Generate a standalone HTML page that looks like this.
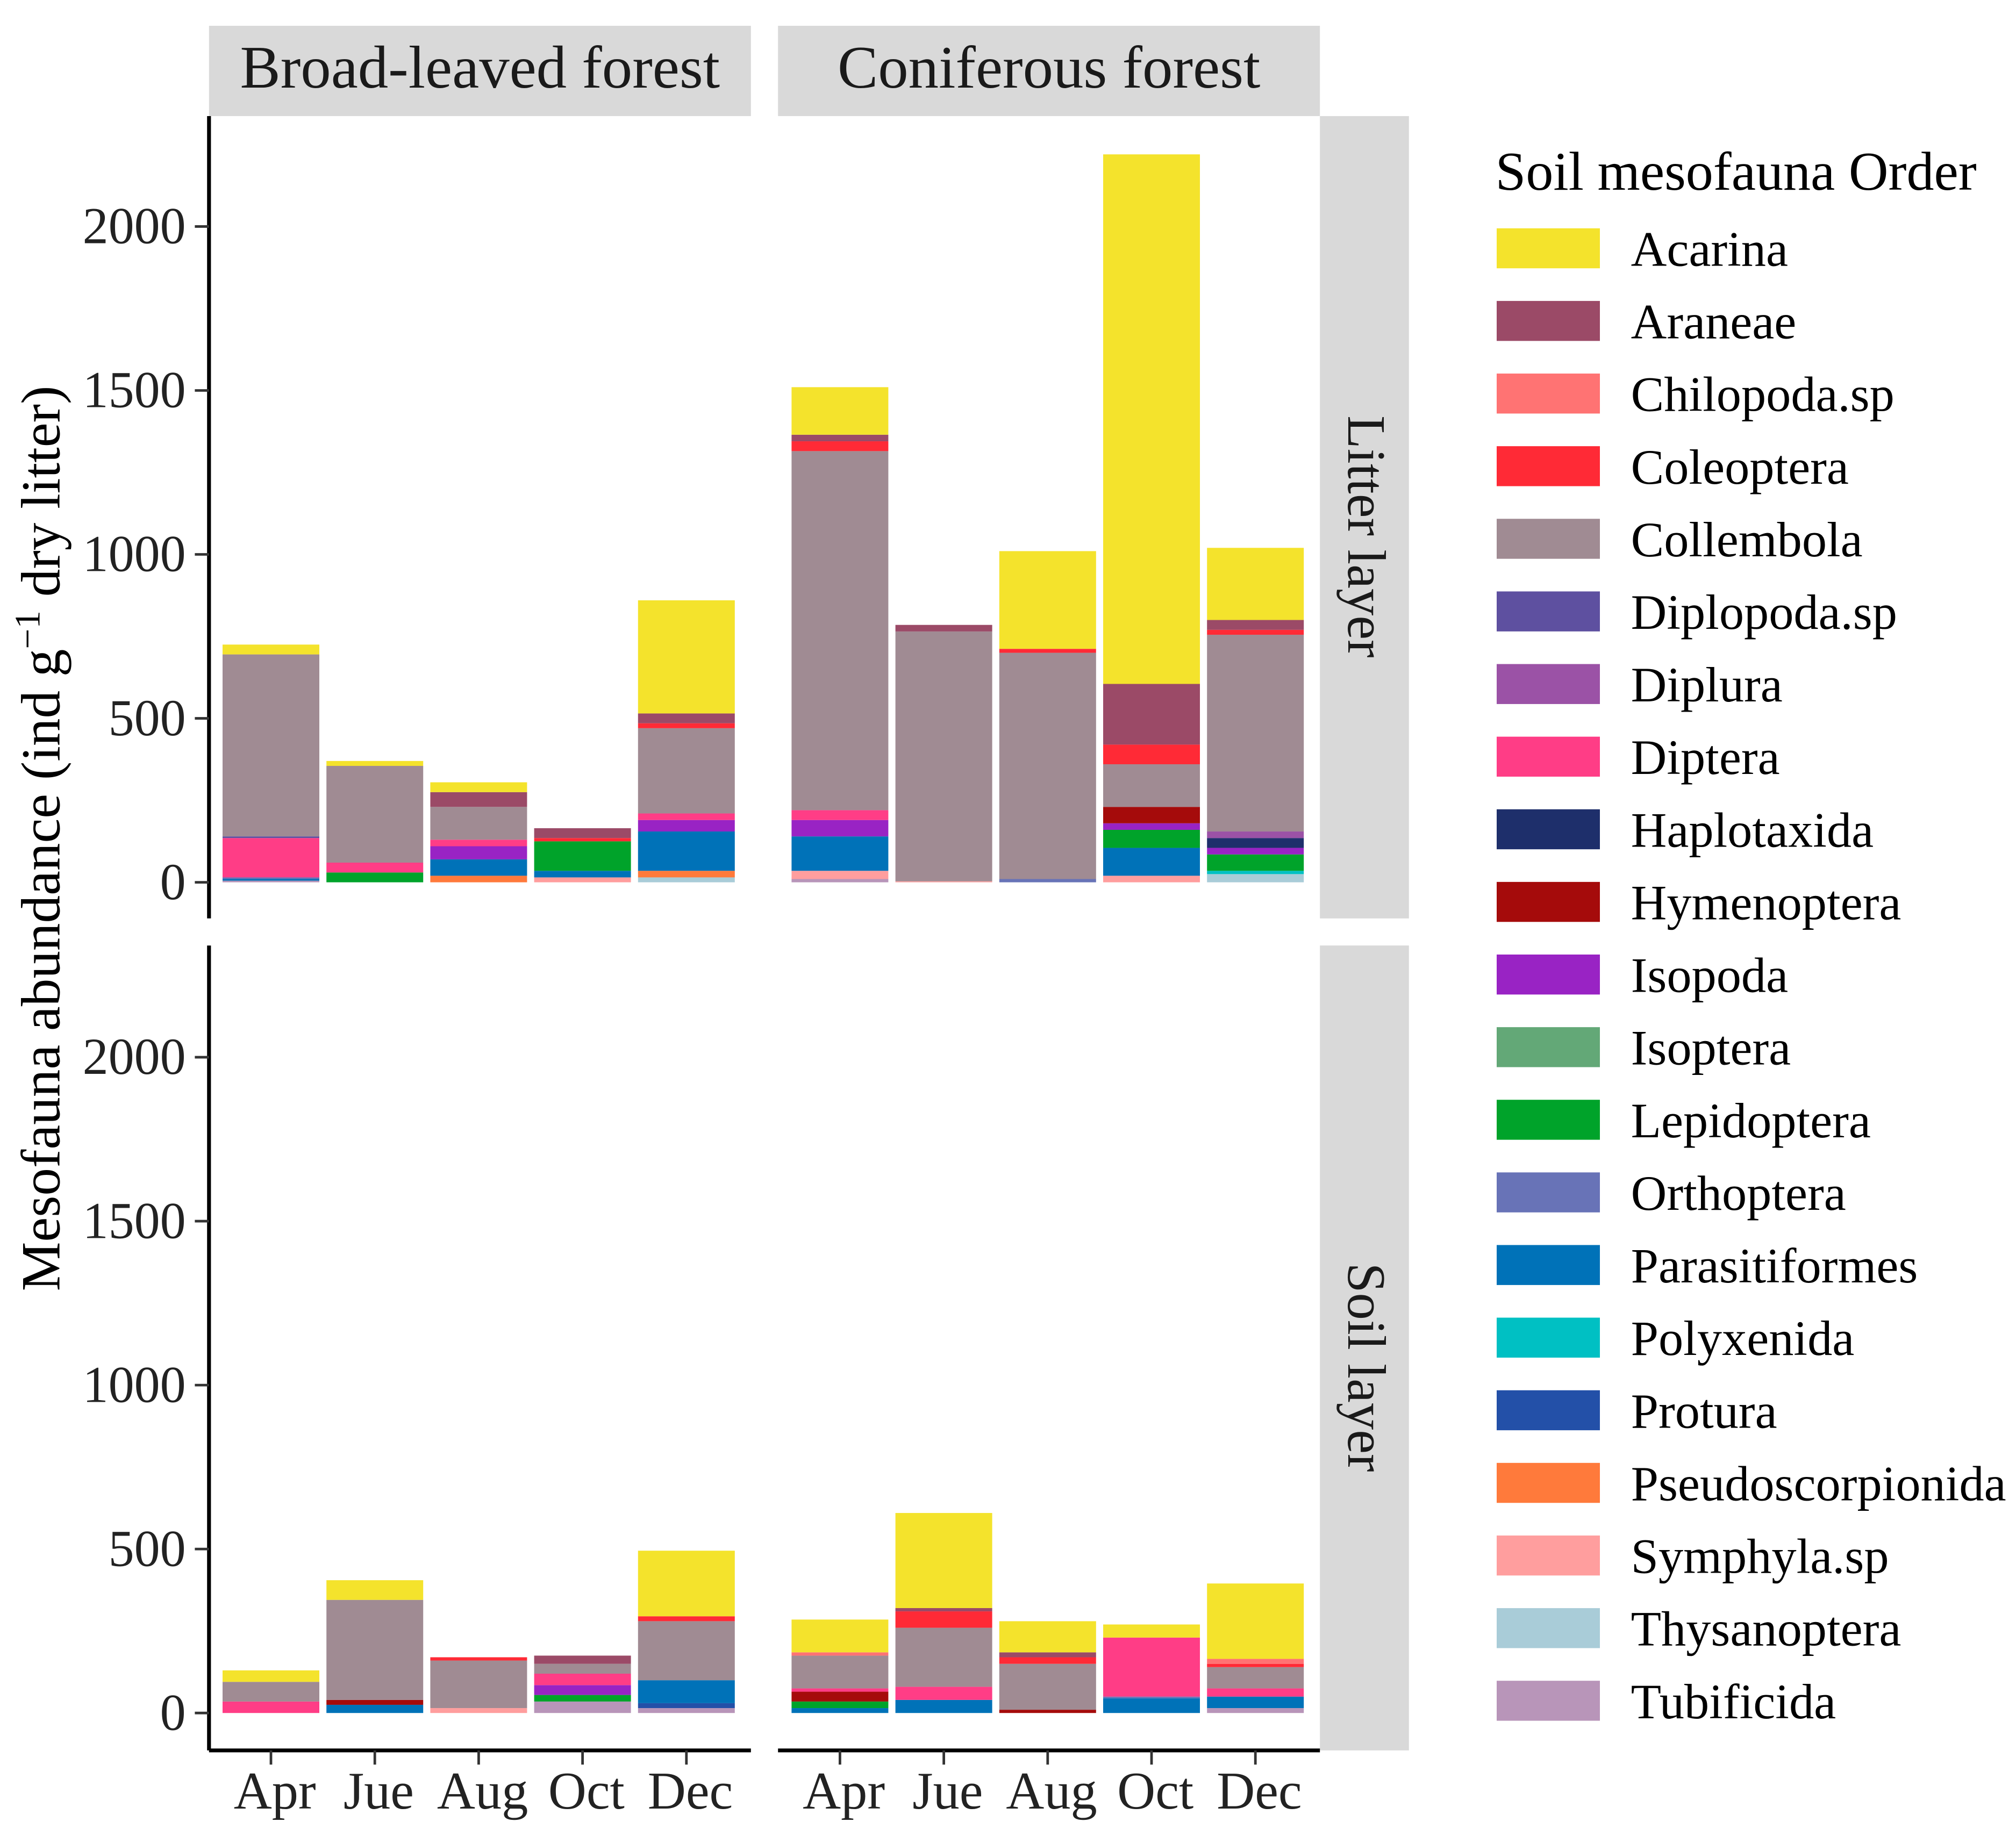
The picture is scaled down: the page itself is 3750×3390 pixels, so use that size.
<!DOCTYPE html>
<html><head><meta charset="utf-8"><style>
html,body{margin:0;padding:0;background:#fff;}
svg{display:block;font-family:"Liberation Serif",serif;}
</style></head><body>
<svg id="chart" width="3750" height="3390" viewBox="0 0 1562.5 1412.5" xmlns="http://www.w3.org/2000/svg">
<g id="root"></g>
</svg>
<script>
// bars order: broad-litter Apr..Dec, conif-litter Apr..Dec, broad-soil Apr..Dec, conif-soil Apr..Dec
const months = ["Apr","Jue","Aug","Oct","Dec"];
const forests = ["Broad-leaved forest","Coniferous forest"];
const layers = ["Litter layer","Soil layer"];
const yTicks = [0,500,1000,1500,2000];
const species = ["Acarina","Araneae","Chilopoda.sp","Coleoptera","Collembola","Diplopoda.sp","Diplura","Diptera","Haplotaxida","Hymenoptera","Isopoda","Isoptera","Lepidoptera","Orthoptera","Parasitiformes","Polyxenida","Protura","Pseudoscorpionida","Symphyla.sp","Thysanoptera","Tubificida"];
const colors = ["#f4e32c","#9b4a67","#ff7373","#ff2a36","#a08b93","#5e50a0","#9b52a6","#ff3d86","#1e2f6b","#a50b0b","#9923c4","#63a877","#00a32a","#6873b7","#0072b8","#00c0c3","#2350a8","#ff7a3b","#ff9e9e","#a9ccd8","#b895b9"];
const acarina        = [30,15,30,0,345, 145,0,298,1615,220, 35,60,0,0,200, 100,290,95,40,230];
const araneae        = [0,0,45,30,30, 20,20,0,185,30, 0,0,0,25,0, 0,10,15,0,0];
const chilopoda      = [0,0,0,0,0, 0,0,0,0,0, 0,0,0,0,0, 10,0,0,0,15];
const coleoptera     = [0,0,0,10,15, 30,0,12,60,15, 0,0,10,0,15, 0,50,20,0,10];
const collembola     = [555,295,100,0,260, 1095,762,690,130,600, 60,305,145,30,180, 100,180,140,0,65];
const diplopoda      = [5,0,0,0,0, 0,0,0,0,0, 0,0,0,0,0, 0,0,0,0,0];
const diplura        = [0,0,0,0,0, 0,0,0,0,20, 0,0,0,0,0, 0,0,0,0,0];
const diptera        = [120,30,20,0,20, 30,0,0,0,0, 35,0,0,35,0, 10,40,0,180,25];
const haplotaxida    = [0,0,0,0,0, 0,0,0,0,30, 0,0,0,0,0, 0,0,0,0,0];
const hymenoptera    = [0,0,0,0,0, 0,0,0,50,0, 0,15,0,0,0, 30,0,10,0,0];
const isopoda        = [0,0,40,0,35, 50,0,0,20,20, 0,0,0,30,0, 0,0,0,0,0];
const isoptera       = [0,0,0,0,0, 0,0,0,0,0, 0,0,0,0,0, 0,0,0,0,0];
const lepidoptera    = [0,30,0,90,0, 0,0,0,55,50, 0,0,0,20,0, 20,0,0,0,0];
const orthoptera     = [5,0,0,0,0, 0,0,10,0,0, 0,0,0,0,0, 0,0,0,5,0];
const parasitiformes = [5,0,50,20,120, 105,0,0,85,0, 0,25,0,0,70, 15,40,0,45,35];
const polyxenida     = [0,0,0,0,0, 0,0,0,0,10, 0,0,0,0,0, 0,0,0,0,0];
const protura        = [0,0,0,0,0, 0,0,0,0,0, 0,0,0,0,15, 0,0,0,0,0];
const pseudoscorp    = [0,0,20,0,20, 0,0,0,0,0, 0,0,0,0,0, 0,0,0,0,0];
const symphyla       = [0,0,0,15,0, 25,3,0,20,0, 0,0,15,0,0, 0,0,0,0,0];
const thysanoptera   = [0,0,0,0,15, 0,0,0,0,25, 0,0,0,0,0, 0,0,0,0,0];
const tubificida     = [5,0,0,0,0, 10,0,0,0,0, 0,0,0,35,15, 0,0,0,0,15];
const seriesValues = [acarina,araneae,chilopoda,coleoptera,collembola,diplopoda,diplura,diptera,haplotaxida,hymenoptera,isopoda,isoptera,lepidoptera,orthoptera,parasitiformes,polyxenida,protura,pseudoscorp,symphyla,thysanoptera,tubificida];

const NS="http://www.w3.org/2000/svg";
const root=document.getElementById('root');
function mk(tag,attrs,parent){const e=document.createElementNS(NS,tag);for(const k in attrs)e.setAttribute(k,attrs[k]);(parent||root).appendChild(e);return e;}
const panelX=[162,603], panelW=420;
const panelY=[90,733], panelH=[622,624];
const zeroY=[684,1328];
const pxPer=127.1/500;
function yScale(layer,v){return zeroY[layer]-v*pxPer;}
function xScale(f,m){return panelX[f]+48+m*80.5;}
const barW=75;

// strips
forests.forEach((f,i)=>{
  const r=mk('rect',{x:panelX[i],y:20,width:panelW,height:70,fill:'#d9d9d9'});
  
  
  const t=mk('text',{x:panelX[i]+panelW/2,y:68,'text-anchor':'middle','font-size':47,fill:'#1a1a1a'});
  t.textContent=f;
  
  
});
layers.forEach((l,j)=>{
  const r=mk('rect',{x:1023,y:panelY[j],width:69,height:panelH[j],fill:'#d9d9d9'});
  
  
  const cy=panelY[j]+panelH[j]/2+15;
  const t=mk('text',{x:1045,y:cy,'text-anchor':'middle','font-size':42,fill:'#1a1a1a',transform:`rotate(90 1045 ${cy})`});
  t.textContent=l;
  
  
});

// bars
for(let j=0;j<2;j++)for(let f=0;f<2;f++)for(let m=0;m<5;m++){
  const idx=j*10+f*5+m;
  let cum=0;
  for(let s=species.length-1;s>=0;s--){
    const v=seriesValues[s][idx];
    if(!v)continue;
    const y1=yScale(j,cum), y2=yScale(j,cum+v);
    const r=mk('rect',{x:xScale(f,m)-barW/2,y:y2,width:barW,height:y1-y2,fill:colors[s]});
    
    
    cum+=v;
  }
}

// axes
for(let j=0;j<2;j++){
  const a=mk('line',{x1:162,x2:162,y1:panelY[j],y2:panelY[j]+panelH[j],stroke:'#000','stroke-width':3});
  
  
  yTicks.forEach(t=>{
    const y=yScale(j,t);
    const tl=mk('line',{x1:151,x2:162,y1:y,y2:y,stroke:'#333','stroke-width':2});
    
    
    const tx=mk('text',{x:144,y:y+13,'text-anchor':'end','font-size':40,fill:'#222'});
    tx.textContent=t;
    
    
  });
}
for(let f=0;f<2;f++){
  const a=mk('line',{x1:panelX[f],x2:panelX[f]+panelW,y1:1357,y2:1357,stroke:'#000','stroke-width':3});
  
  
  months.forEach((mn,m)=>{
    const x=xScale(f,m);
    const tl=mk('line',{x1:x,x2:x,y1:1357,y2:1368,stroke:'#333','stroke-width':2});
    
    
    const tx=mk('text',{x:x+3,y:1402,'text-anchor':'middle','font-size':41,fill:'#222'});
    tx.textContent=mn;
    
    
  });
}
// y title
const yt=mk('text',{x:46,y:650,'text-anchor':'middle','font-size':43,fill:'#000',transform:'rotate(-90 46 650)'});


yt.appendChild(document.createTextNode('Mesofauna abundance (ind g'));
const sup=mk('tspan',{'baseline-shift':'super','font-size':28},yt);sup.textContent='−1';
const rest=mk('tspan',{},yt);rest.textContent=' dry litter)';

// legend
const lt=mk('text',{x:1159,y:147,'font-size':42.5,fill:'#000'});
lt.textContent='Soil mesofauna Order';


species.forEach((s,i)=>{
  const y=177+i*56.3;
  const k=mk('rect',{x:1160,y:y,width:80,height:31,fill:colors[i]});
  
  
  const t=mk('text',{x:1264,y:y+29,'font-size':38.5,fill:'#000'});
  t.textContent=s;
  
  
});
</script>
</body></html>
